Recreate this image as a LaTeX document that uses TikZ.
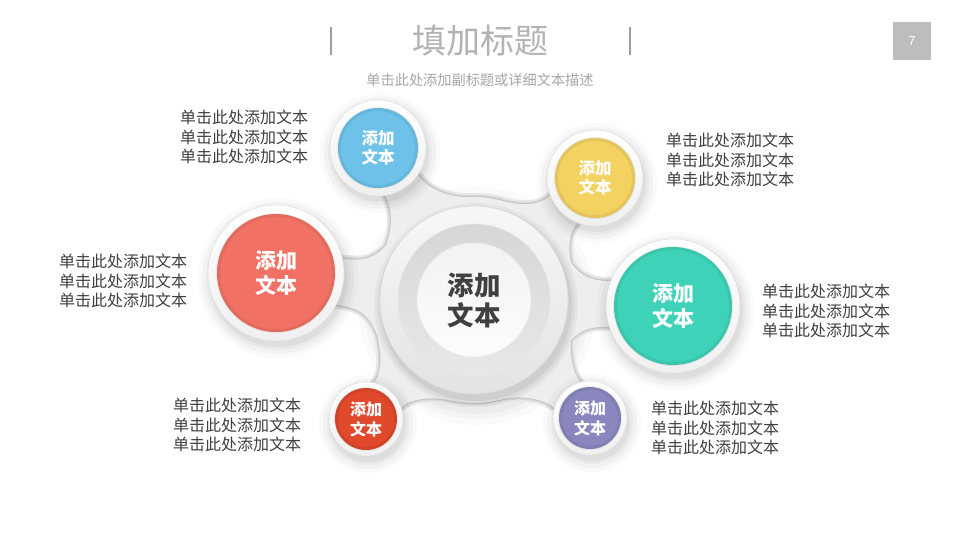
\documentclass[tikz,border=0pt]{standalone}
\usepackage{fontspec}
\setmainfont{Liberation Sans}
\newfontfamily\cjk{Noto Sans CJK SC}
\usetikzlibrary{calc}
\definecolor{cblue}{HTML}{6EC2EA}
\definecolor{cyellow}{HTML}{F3D262}
\definecolor{cred}{HTML}{F17264}
\definecolor{cteal}{HTML}{3ED3B8}
\definecolor{corange}{HTML}{E0492C}
\definecolor{cpurple}{HTML}{8A87BE}
\definecolor{txtgray}{HTML}{404040}
\definecolor{titlegray}{HTML}{B3B3B3}
\definecolor{subgray}{HTML}{A6A6A6}
\definecolor{boxgray}{HTML}{BDBDBD}
\definecolor{blobfill}{HTML}{EEEEEE}
\definecolor{blobedge}{HTML}{C6C6C6}
\definecolor{blobmid}{HTML}{D9D9D9}
\definecolor{blobhalo}{HTML}{E9E9E9}
% #1 bubble, #2 r, #3 alpha (disc), #4 beta (bubble), #5 k disc, #6 k bubble, #7 style
\newcommand{\blobarm}[7]{%
\path[#7] let \p1=($(#1)-(C)$), \n1={atan2(\y1,\x1)} in
 ($(C)+(\n1+#3:103pt)$) .. controls ($(C)+(\n1+#3:103pt)+(\n1+#3-90:#5pt)$) and ($(#1)+(\n1+180-#4:#2pt)+(\n1+180:#6pt)$) .. ($(#1)+(\n1+180-#4:#2pt)$)
 -- ($(#1)+(\n1+180+#4:#2pt)$) .. controls ($(#1)+(\n1+180+#4:#2pt)+(\n1+180:#6pt)$) and ($(C)+(\n1-#3:103pt)+(\n1-#3+90:#5pt)$) .. ($(C)+(\n1-#3:103pt)$) -- cycle;}
\newcommand{\allarms}[1]{%
 \blobarm{B1}{48}{30}{24}{24}{14}{#1}
 \blobarm{B2}{48}{30}{24}{24}{14}{#1}
 \blobarm{B3}{68}{28}{20}{26}{18}{#1}
 \blobarm{B4}{67}{28}{20}{26}{18}{#1}
 \blobarm{B5}{37}{30}{30}{22}{12}{#1}
 \blobarm{B6}{37}{30}{30}{22}{12}{#1}
 \path[#1] (C) circle[radius=103pt];}
\newcommand{\bubble}[5]{%
 \foreach \e/\op in {12/0.02,8/0.03,4/0.035,1/0.045}{\fill[black,opacity=\op] ($(#1)+(2,5)$) circle[radius=#2pt+\e pt];}
 \shade[top color=white,bottom color=black!6] (#1) circle[radius=#2pt];
 \draw[black!12,line width=0.6pt] (#1) circle[radius=#2pt];
 \fill[#4] (#1) circle[radius=#3pt];
 \draw[black,opacity=0.06,line width=3pt] (#1) circle[radius=#3pt-1.5pt];
 \draw[black,opacity=0.06,line width=1pt] (#1) circle[radius=#3pt+0.5pt];
 \node[bubtext,font=#5] (#1t) at (#1) {添加\\文本};}
\begin{document}
\begin{tikzpicture}[x=1pt,y=-1pt,
  bubtext/.style={align=center,text=white,inner sep=0pt},
  sidetext/.style={align=left,anchor=west,text=txtgray,inner sep=0pt,
     font=\cjk\fontsize{16}{19.6}\selectfont}]
\useasboundingbox (0,0) rectangle (960,540);
\fill[white] (0,0) rectangle (960,540);
% title
\coordinate (barL1) at (331,27); \coordinate (barL2) at (331,55);
\coordinate (barR1) at (630,27); \coordinate (barR2) at (630,55);
\draw[black!38,line width=1.4pt] (barL1) -- (barL2);
\draw[black!38,line width=1.4pt] (barR1) -- (barR2);
\node[text=titlegray,font=\cjk\fontsize{34}{40}\selectfont,inner sep=0pt] (title) at (480,41) {填加标题};
\node[text=subgray,font=\cjk\fontsize{14.2}{17}\selectfont,inner sep=0pt] (sub) at (480,80) {单击此处添加副标题或详细文本描述};
\node[fill=boxgray,minimum size=38pt,inner sep=0pt,text=white,font=\fontsize{13}{15}\selectfont] (page) at (912,41) {7};
% centres
\coordinate (C) at (474,300);
\coordinate (B1) at (378,148);
\coordinate (B2) at (595,178);
\coordinate (B3) at (276,273);
\coordinate (B4) at (673,306);
\coordinate (B5) at (366,419);
\coordinate (B6) at (590,418);
% soft page shadow of the blob
\foreach \e/\op in {16/0.02,10/0.025,5/0.03}{\fill[black,opacity=\op] ($(C)+(3,6)$) circle[radius=103pt+\e pt];}
% blob
\allarms{draw=blobhalo,line width=8pt}
\allarms{draw=blobmid,line width=4.5pt}
\allarms{draw=blobedge,line width=2pt}
\allarms{fill=blobfill}
% centre disc
\foreach \e/\op in {8/0.035,5/0.045,2/0.06}{\fill[black,opacity=\op] ($(C)+(2,5)$) circle[radius=94pt+\e pt];}
\shade[top color=white!97!black,bottom color=white!89!black] (C) circle[radius=94pt];
\draw[black!15,line width=0.7pt] (C) circle[radius=94pt];
\shade[top color=white!84!black,bottom color=white!91!black] (C) circle[radius=76pt];
\draw[black!10,line width=0.6pt] (C) circle[radius=76pt];
\shade[top color=white!95!black,bottom color=white!99!black] (C) circle[radius=57pt];
\draw[black!8,line width=0.8pt] (C) circle[radius=57pt];
\node[align=center,text=txtgray,inner sep=0pt,font=\cjk\bfseries\fontsize{26.5}{30}\selectfont] (Ct) at (C) {添加\\文本};
% bubbles
\bubble{B1}{48}{40}{cblue}{\cjk\bfseries\fontsize{16.5}{19}\selectfont}
\bubble{B2}{48}{40}{cyellow}{\cjk\bfseries\fontsize{16.5}{19}\selectfont}
\bubble{B3}{68}{59}{cred}{\cjk\bfseries\fontsize{21}{24.5}\selectfont}
\bubble{B4}{67}{59}{cteal}{\cjk\bfseries\fontsize{21}{24.5}\selectfont}
\bubble{B5}{37}{31}{corange}{\cjk\bfseries\fontsize{16}{20}\selectfont}
\bubble{B6}{37}{31}{cpurple}{\cjk\bfseries\fontsize{16}{20}\selectfont}
% side texts
\node[sidetext] (T1) at (180,137) {单击此处添加文本\\单击此处添加文本\\单击此处添加文本};
\node[sidetext] (T2) at (666,160) {单击此处添加文本\\单击此处添加文本\\单击此处添加文本};
\node[sidetext] (T3) at (59,281) {单击此处添加文本\\单击此处添加文本\\单击此处添加文本};
\node[sidetext] (T4) at (762,311) {单击此处添加文本\\单击此处添加文本\\单击此处添加文本};
\node[sidetext] (T5) at (173,425) {单击此处添加文本\\单击此处添加文本\\单击此处添加文本};
\node[sidetext] (T6) at (651,428) {单击此处添加文本\\单击此处添加文本\\单击此处添加文本};
\end{tikzpicture}
\end{document}
